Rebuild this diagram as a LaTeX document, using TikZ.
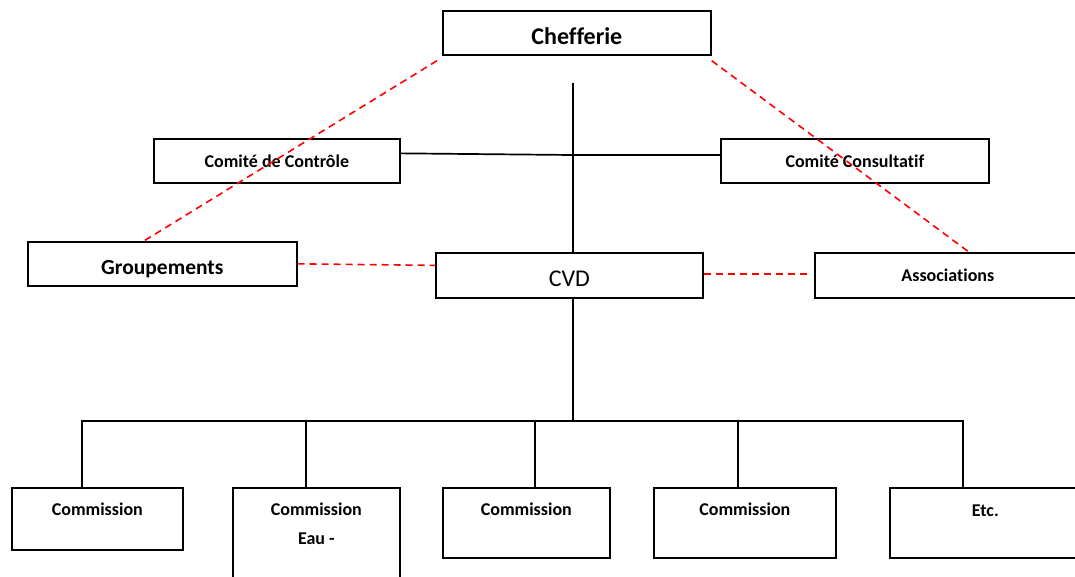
\documentclass[tikz,border=0pt]{standalone}
\usepackage{fontspec}
\setmainfont[Ligatures={NoCommon}]{Carlito}
\usetikzlibrary{positioning}
\definecolor{linkRed}{RGB}{255,0,0}

\begin{document}
\begin{tikzpicture}[x=1pt,y=-1pt,
    unit/.style={draw,line width=1.7pt,inner sep=0pt,anchor=north west,font=\bfseries\fontsize{18}{22}\selectfont},
    link/.style={line width=1.7pt},
    dashlink/.style={linkRed,line width=1.6pt,dash pattern=on 7pt off 5pt},
    caption/.style={anchor=north,yshift=-16pt,inner sep=0pt,align=center,font=\bfseries\fontsize{18}{29}\selectfont}
  ]
    \useasboundingbox (0,0) rectangle (1075,576);

    % upper levels
    \node[unit,minimum width=268pt,minimum height=44pt,text height=24pt,text depth=0pt,font=\bfseries\fontsize{24}{28}\selectfont] (chef) at (442,10) {Chefferie};
    \node[unit,minimum width=246pt,minimum height=44pt] (ctrl) at (153,138) {Comité de Contrôle};
    \node[unit,minimum width=268pt,minimum height=44pt] (cons) at (720,138) {Comité Consultatif};
    \node[unit,minimum width=269pt,minimum height=44pt,text height=22pt,text depth=0pt,font=\bfseries\fontsize{21.5}{26}\selectfont] (grp) at (27,241) {Groupements};
    \node[unit,minimum width=267pt,minimum height=45pt,text height=21.5pt,text depth=0pt,font=\fontsize{24}{28}\selectfont] (cvd) at (435,252) {CVD};
    \node[unit,minimum width=266pt,minimum height=45pt] (assoc) at (814,252) {Associations};

    % commissions
    \node[unit,minimum width=171pt,minimum height=62pt,label={[caption]north:Commission}] (com1) at (11,487) {};
    \node[unit,minimum width=167pt,minimum height=100pt,label={[caption]north:{Commission\\Eau -}}] (com2) at (232,487) {};
    \node[unit,minimum width=167pt,minimum height=70pt,label={[caption]north:Commission}] (com3) at (442,487) {};
    \node[unit,minimum width=182pt,minimum height=70pt,label={[caption]north:Commission}] (com4) at (653,487) {};
    \node[unit,minimum width=191pt,minimum height=70pt,label={[caption,yshift=-2pt]north:Etc.}] (com5) at (889,487) {};

    \coordinate (stem) at (573,83);
    \coordinate (junc) at (573,155);
    \coordinate (bus) at (573,421);

    % solid links
    \draw[link] (stem) -- (stem |- cvd.north);
    \draw[link] ([yshift=7.5pt]ctrl.east) -- (junc) -- (junc -| cons.west);
    \draw[link] (bus |- cvd.south) -- (bus);
    \draw[link] ([xshift=-15.5pt]com1.north) -- ([xshift=-15.5pt]com1.north |- bus)
      -- ([xshift=-22.5pt]com5.north |- bus) -- ([xshift=-22.5pt]com5.north);
    \foreach \n/\dx in {com2/-10.5,com3/8.5,com4/-7}
      \draw[link] ([xshift=\dx pt]\n.north |- bus) -- ([xshift=\dx pt]\n.north);

    % dashed links
    \draw[dashlink] ([xshift=-5pt,yshift=-5pt]chef.south west) -- ([xshift=-18.5pt]grp.north);
    \draw[dashlink] ([yshift=-5pt]chef.south east) -- ([xshift=21pt]assoc.north);
    \draw[dashlink] (grp.east) -- ([yshift=10pt]cvd.west);
    \draw[dashlink] ([yshift=1.5pt]cvd.east) -- ([xshift=-6pt,yshift=1.5pt]assoc.west);
\end{tikzpicture}
\end{document}
